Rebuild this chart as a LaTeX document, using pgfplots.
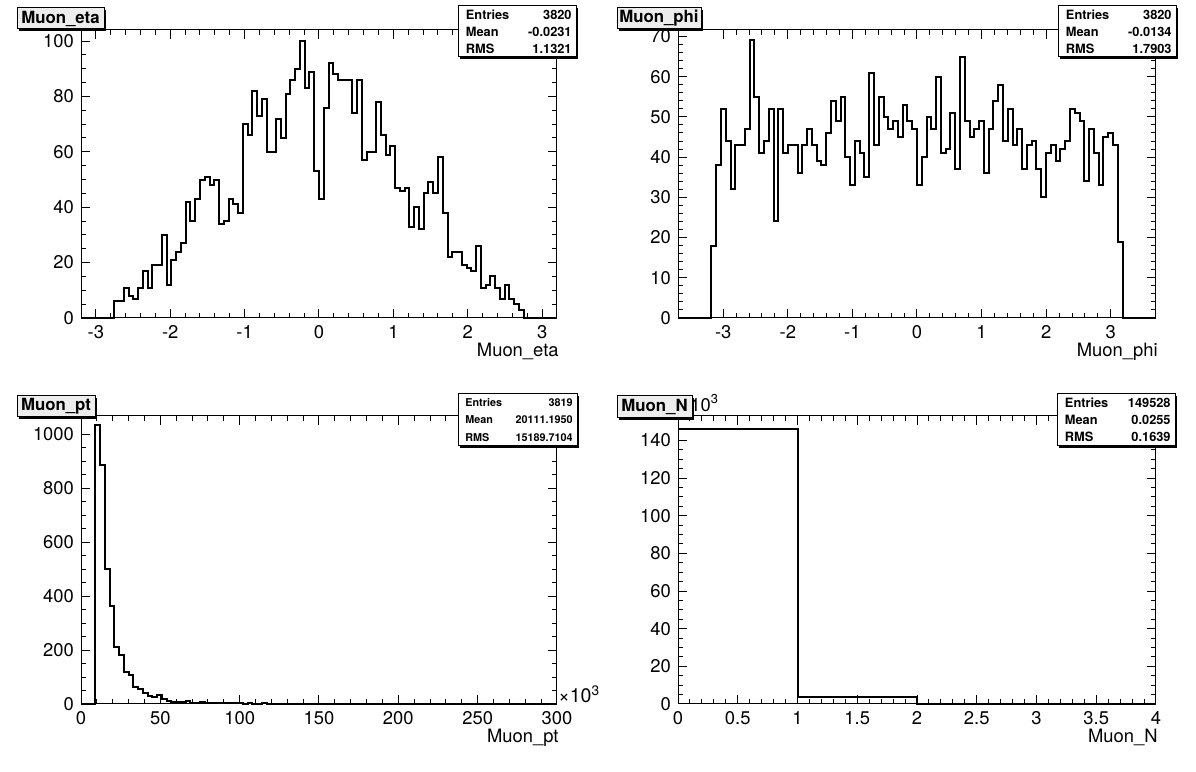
\documentclass[border=0pt]{standalone}
\usepackage{pgfplots}
\pgfplotsset{compat=1.18}
\usepackage{fontspec}
\setmainfont{TeX Gyre Heros}

\pgfplotsset{
  rootax/.style={
    scale only axis, height=144pt,
    axis line style={line width=0.5pt},
    tick align=inside, tick pos=both,
    major tick length=4.7pt, minor tick length=2.4pt,
    every tick/.append style={black, line width=0.5pt},
    tick label style={font=\fontsize{9.2}{11}\selectfont},
    /pgf/number format/assume math mode=true,
    /pgf/number format/1000 sep={},
    ymin=0, clip=false,
    xlabel style={at={(rel axis cs:1,0)}, anchor=base east, yshift=-19.5pt, xshift=1pt, inner sep=0pt, font=\fontsize{9.2}{11}\selectfont},
  },
  hist/.style={const plot, black, line width=1pt, line join=miter, mark=none},
}

\begin{document}
\begin{tikzpicture}
\path[use as bounding box] (0,0) rectangle (598pt,386pt);

% ---------------- Muon_eta ----------------
\begin{axis}[rootax, at={(40.5pt,371pt)}, anchor=north west, width=238pt,
  xmin=-3.2, xmax=3.2, ymax=104,
  xtick={-3,-2,-1,0,1,2,3}, minor x tick num=4,
  ytick={0,20,40,60,80,100}, minor y tick num=3,
  xlabel={Muon\_eta}]
\addplot[hist] table[row sep=\\, x expr=\thisrow{b}*0.064-3.2, y=c] {
b c\\ 0 0\\ 1 0\\ 2 0\\ 3 0\\ 4 0\\ 5 0\\ 6 0\\ 7 6\\ 8 6\\ 9 11\\
10 8\\ 11 7\\ 12 11\\ 13 17\\ 14 11\\ 15 19\\ 16 19\\ 17 30\\ 18 12\\ 19 21\\
20 24\\ 21 27\\ 22 42\\ 23 35\\ 24 43\\ 25 50\\ 26 51\\ 27 48\\ 28 50\\ 29 34\\
30 35\\ 31 43\\ 32 41\\ 33 38\\ 34 70\\ 35 66\\ 36 82\\ 37 73\\ 38 79\\ 39 60\\
40 60\\ 41 72\\ 42 65\\ 43 81\\ 44 86\\ 45 90\\ 46 100\\ 47 83\\ 48 89\\ 49 53\\
50 43\\ 51 76\\ 52 92\\ 53 88\\ 54 86\\ 55 86\\ 56 86\\ 57 74\\ 58 86\\ 59 57\\
60 60\\ 61 60\\ 62 78\\ 63 66\\ 64 59\\ 65 62\\ 66 47\\ 67 46\\ 68 47\\ 69 33\\
70 40\\ 71 32\\ 72 45\\ 73 49\\ 74 45\\ 75 58\\ 76 38\\ 77 22\\ 78 24\\ 79 24\\
80 19\\ 81 18\\ 82 17\\ 83 26\\ 84 11\\ 85 12\\ 86 15\\ 87 11\\ 88 7\\ 89 12\\
90 7\\ 91 5\\ 92 3\\ 93 0\\ 94 0\\ 95 0\\ 96 0\\ 97 0\\ 98 0\\ 99 0\\ 100 0\\
};
\end{axis}

% ---------------- Muon_phi ----------------
\begin{axis}[rootax, at={(339pt,371pt)}, anchor=north west, width=239pt,
  xmin=-3.7, xmax=3.7, ymax=71.6,
  xtick={-3,-2,-1,0,1,2,3}, minor x tick num=4,
  ytick={0,10,20,30,40,50,60,70}, minor y tick num=4,
  xlabel={Muon\_phi}]
\addplot[hist] table[row sep=\\, x expr=\thisrow{b}*0.074-3.7, y=c] {
b c\\ 0 0\\ 1 0\\ 2 0\\ 3 0\\ 4 0\\ 5 0\\ 6 0\\ 7 18\\ 8 38\\ 9 52\\
10 44\\ 11 32\\ 12 43\\ 13 43\\ 14 47\\ 15 69\\ 16 55\\ 17 41\\ 18 44\\ 19 52\\
20 24\\ 21 52\\ 22 41\\ 23 43\\ 24 43\\ 25 36\\ 26 43\\ 27 47\\ 28 43\\ 29 39\\
30 38\\ 31 46\\ 32 54\\ 33 49\\ 34 55\\ 35 40\\ 36 33\\ 37 44\\ 38 41\\ 39 35\\
40 61\\ 41 43\\ 42 55\\ 43 50\\ 44 47\\ 45 49\\ 46 45\\ 47 53\\ 48 49\\ 49 47\\
50 33\\ 51 40\\ 52 50\\ 53 47\\ 54 60\\ 55 41\\ 56 42\\ 57 51\\ 58 37\\ 59 65\\
60 49\\ 61 45\\ 62 47\\ 63 49\\ 64 36\\ 65 47\\ 66 54\\ 67 58\\ 68 44\\ 69 52\\
70 43\\ 71 47\\ 72 37\\ 73 43\\ 74 44\\ 75 37\\ 76 30\\ 77 41\\ 78 43\\ 79 39\\
80 42\\ 81 44\\ 82 52\\ 83 51\\ 84 49\\ 85 34\\ 86 47\\ 87 41\\ 88 33\\ 89 45\\
90 46\\ 91 43\\ 92 19\\ 93 0\\ 94 0\\ 95 0\\ 96 0\\ 97 0\\ 98 0\\ 99 0\\ 100 0\\
};
\end{axis}

% ---------------- Muon_pt ----------------
\begin{axis}[rootax, at={(40.5pt,178pt)}, anchor=north west, width=238pt,
  xmin=0, xmax=300, ymax=1067,
  xtick={0,50,100,150,200,250,300}, minor x tick num=4,
  ytick={0,200,400,600,800,1000}, minor y tick num=3,
  xlabel={Muon\_pt}]
\addplot[hist] table[row sep=\\, x expr=\thisrow{b}*3, y=c] {
b c\\ 0 0\\ 1 0\\ 2 0\\ 3 1035\\ 4 885\\ 5 499\\ 6 364\\ 7 212\\ 8 181\\ 9 120\\
10 107\\ 11 62\\ 12 54\\ 13 40\\ 14 30\\ 15 27\\ 16 35\\ 17 17\\ 18 12\\ 19 9\\
20 9\\ 21 7\\ 22 11\\ 23 5\\ 24 5\\ 25 7\\ 26 4\\ 27 5\\ 28 3\\ 29 4\\
30 2\\ 31 3\\ 32 2\\ 33 2\\ 34 1\\ 35 2\\ 36 1\\ 37 1\\ 38 2\\ 39 1\\
40 1\\ 41 0\\ 42 1\\ 43 0\\ 44 1\\ 45 0\\ 100 0\\
};
\node[anchor=west, inner sep=0pt, font=\fontsize{9.8}{11}\selectfont] at (rel axis cs:1,0) [yshift=5pt, xshift=0.5pt] {×10\textsuperscript{3}};
\end{axis}

% ---------------- Muon_N ----------------
\begin{axis}[rootax, at={(339pt,178pt)}, anchor=north west, width=239pt,
  xmin=0, xmax=4, ymax=153,
  xtick={0,0.5,1,1.5,2,2.5,3,3.5,4}, minor x tick num=4,
  ytick={0,20,40,60,80,100,120,140}, minor y tick num=3,
  xlabel={Muon\_N}]
\addplot[hist] table[row sep=\\] {
x y\\ 0 145.857\\ 1 3.523\\ 2 0.148\\ 3 0\\ 4 0\\
};
\node[anchor=south west, inner sep=0pt, font=\fontsize{9.2}{11}\selectfont] at (rel axis cs:0,1) [xshift=6pt, yshift=2pt] {10\textsuperscript{3}};
\end{axis}

% ---------------- boxes (pixel coordinates, y downward) ----------------
\begin{scope}[shift={(0pt,386pt)}, x=0.5pt, y=-0.5pt]
  \newcommand{\titlebox}[5]{%
    \fill[black] (#1+2,#2+2) rectangle (#3+2,#4+2);
    \filldraw[fill=black!7, draw=black, line width=0.5pt] (#1,#2) rectangle (#3,#4);
    \node[font=\bfseries\fontsize{8.4}{9}\selectfont, inner sep=0pt] at ({(#1+#3)/2},{(#2+#4)/2}) {#5};}
  \newcommand{\statbox}[9]{%
    \fill[black] (#1+2,#2+2) rectangle (#3+2,#4+2);
    \filldraw[fill=white, draw=black, line width=0.5pt] (#1,#2) rectangle (#3,#4);
    \pgfmathsetmacro{\rh}{(#4-#2)/3}
    \node[anchor=west, inner sep=0pt] at (#1+4,{#2+0.5*\rh}) {#9 Entries};
    \node[anchor=east, inner sep=0pt] at (#3-4,{#2+0.5*\rh}) {#9 #5};
    \node[anchor=west, inner sep=0pt] at (#1+4,{#2+1.5*\rh}) {#9 Mean};
    \node[anchor=east, inner sep=0pt] at (#3-4,{#2+1.5*\rh}) {#9 #6};
    \node[anchor=west, inner sep=0pt] at (#1+4,{#2+2.5*\rh}) {#9 RMS};
    \node[anchor=east, inner sep=0pt] at (#3-4,{#2+2.5*\rh}) {#9 #7};}
  \titlebox{17}{8}{104}{29}{Muon\_eta}
  \titlebox{617}{8}{701}{29}{Muon\_phi}
  \titlebox{17}{396}{95}{417}{Muon\_pt}
  \titlebox{617}{396}{692}{418}{Muon\_N}
  \statbox{458}{6}{576}{57}{3820}{-0.0231}{1.1321}{}{\bfseries\fontsize{6.4}{7}\selectfont}
  \statbox{1058}{6}{1176}{57}{3820}{-0.0134}{1.7903}{}{\bfseries\fontsize{6.4}{7}\selectfont}
  \statbox{458}{394}{577}{446}{3819}{20111.1950}{15189.7104}{}{\bfseries\fontsize{5.4}{6}\selectfont}
  \statbox{1057}{394}{1175}{446}{149528}{0.0255}{0.1639}{}{\bfseries\fontsize{6.4}{7}\selectfont}
\end{scope}
\end{tikzpicture}
\end{document}
